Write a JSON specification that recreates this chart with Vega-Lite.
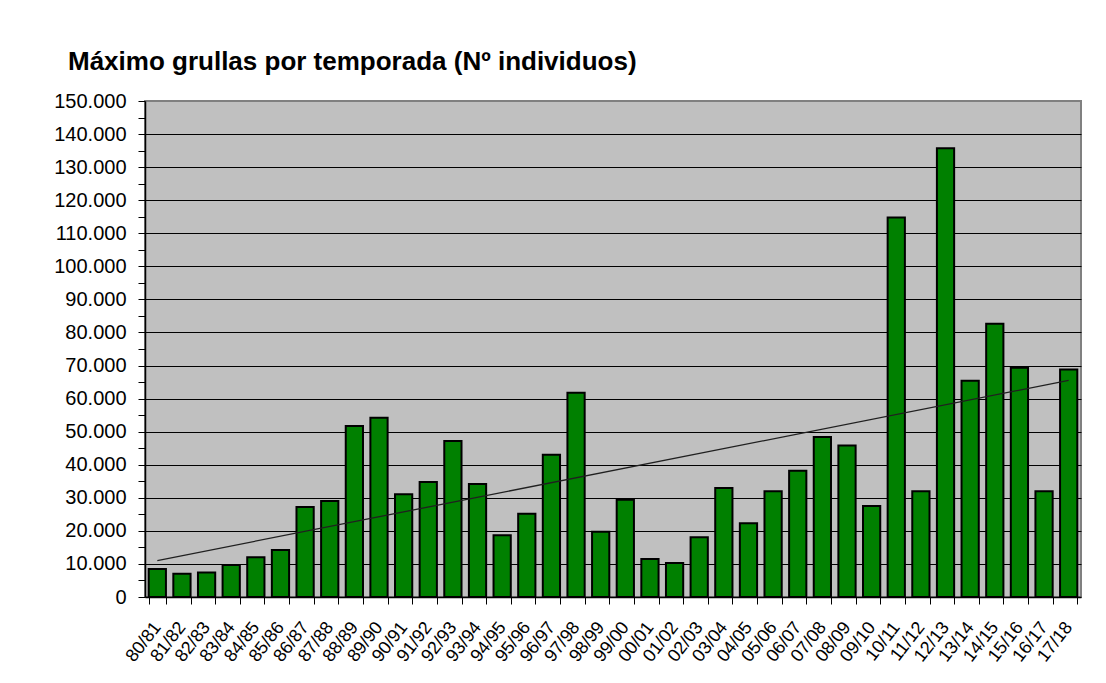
{
  "$schema": "https://vega.github.io/schema/vega-lite/v6.json",
  "autosize": "none",
  "width": 936,
  "height": 496,
  "padding": {"left": 145, "top": 101, "right": 25, "bottom": 86},
  "background": "white",
  "config": {
    "locale": {"number": {"decimal": ",", "thousands": ".", "grouping": [3], "currency": ["", " €"]}},
    "view": {"fill": "#C0C0C0", "stroke": "#808080", "strokeWidth": 2},
    "font": "Liberation Sans"
  },
  "title": {
    "text": "Máximo grullas por temporada (Nº individuos)",
    "anchor": "start",
    "frame": "group",
    "dx": -77,
    "offset": 16,
    "fontSize": 26,
    "fontWeight": "bold",
    "font": "Liberation Sans",
    "color": "black"
  },
  "data": {
    "values": [
      {"season": "80/81", "value": 8500},
      {"season": "81/82", "value": 7000},
      {"season": "82/83", "value": 7400},
      {"season": "83/84", "value": 9700},
      {"season": "84/85", "value": 12000},
      {"season": "85/86", "value": 14200},
      {"season": "86/87", "value": 27200},
      {"season": "87/88", "value": 29000},
      {"season": "88/89", "value": 51700},
      {"season": "89/90", "value": 54200},
      {"season": "90/91", "value": 31100},
      {"season": "91/92", "value": 34800},
      {"season": "92/93", "value": 47200},
      {"season": "93/94", "value": 34200},
      {"season": "94/95", "value": 18700},
      {"season": "95/96", "value": 25200},
      {"season": "96/97", "value": 43000},
      {"season": "97/98", "value": 61800},
      {"season": "98/99", "value": 19700},
      {"season": "99/00", "value": 29400},
      {"season": "00/01", "value": 11500},
      {"season": "01/02", "value": 10300},
      {"season": "02/03", "value": 18100},
      {"season": "03/04", "value": 33000},
      {"season": "04/05", "value": 22300},
      {"season": "05/06", "value": 32000},
      {"season": "06/07", "value": 38200},
      {"season": "07/08", "value": 48400},
      {"season": "08/09", "value": 45800},
      {"season": "09/10", "value": 27500},
      {"season": "10/11", "value": 114800},
      {"season": "11/12", "value": 32000},
      {"season": "12/13", "value": 135700},
      {"season": "13/14", "value": 65400},
      {"season": "14/15", "value": 82600},
      {"season": "15/16", "value": 69300},
      {"season": "16/17", "value": 32000},
      {"season": "17/18", "value": 68800}
    ]
  },
  "encoding": {
    "y": {
      "field": "value", "type": "quantitative",
      "scale": {"domain": [0, 150000], "nice": false},
      "axis": {
        "title": null,
        "values": [0,5000,10000,15000,20000,25000,30000,35000,40000,45000,50000,55000,60000,65000,70000,75000,80000,85000,90000,95000,100000,105000,110000,115000,120000,125000,130000,135000,140000,145000,150000],
        "labelExpr": "datum.value % 10000 === 0 ? format(datum.value, ',d') : ''",
        "labelFontSize": 20, "labelColor": "black", "labelFont": "Liberation Sans",
        "tickColor": "black", "tickSize": 7, "labelPadding": 12,
        "domainColor": "black", "domainWidth": 1.5,
        "grid": true, "gridColor": "black", "gridWidth": 1.2,
        "gridOpacity": {"condition": {"test": "datum.value % 10000 !== 0 || datum.value === 150000 || datum.value === 0", "value": 0}, "value": 1},
        "labelOverlap": false
      }
    }
  },
  "layer": [
    {
      "mark": {"type": "bar", "fill": "#008000", "stroke": "black", "strokeWidth": 2},
      "encoding": {
        "x": {
          "field": "season", "type": "ordinal", "sort": null,
          "scale": {"paddingInner": 0.3, "paddingOuter": 0.15},
          "axis": {
            "title": null, "labelAngle": -52, "labelFontSize": 18, "labelColor": "black",
            "labelFont": "Liberation Sans", "tickBand": "extent", "tickColor": "black",
            "tickSize": 7, "domainColor": "black", "domainWidth": 1.5, "labelPadding": 20
          }
        }
      }
    },
    {
      "transform": [
        {"window": [{"op": "row_number", "as": "idx"}]},
        {"regression": "value", "on": "idx", "method": "linear"}
      ],
      "mark": {"type": "line", "color": "#202020", "strokeWidth": 1.3},
      "encoding": {
        "x": {"field": "idx", "type": "quantitative", "scale": {"domain": [0.5, 38.5], "nice": false, "zero": false}, "axis": null}
      }
    }
  ],
  "resolve": {"scale": {"x": "independent"}}
}
